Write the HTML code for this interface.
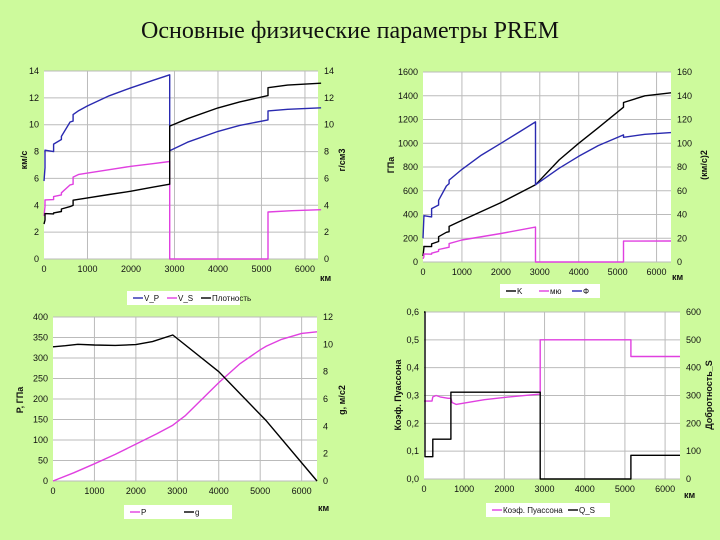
<!DOCTYPE html>
<html><head><meta charset="utf-8">
<style>
body{margin:0;background:#cdfa9c;}
svg{display:block;font-family:"Liberation Sans",sans-serif;}
</style></head><body>
<svg id="s" width="720" height="540" viewBox="0 0 720 540" xmlns="http://www.w3.org/2000/svg">
<rect width="720" height="540" fill="#cdfa9c"/>
<text x="350" y="38" text-anchor="middle" font-family="Liberation Serif,serif" font-size="24" fill="#111">Основные физические параметры PREM</text>
</svg>
<script>
// ---- Chart 1: velocities & density ----
const vpDepth=[0,24,24,220,220,400,400,600,670,670,800,1000,1500,2000,2500,2891,2891,3300,4000,4500,5150,5150,5600,6371];
const vpVal=[5.8,6.8,8.1,8.0,8.56,8.9,9.13,10.2,10.27,10.75,11.05,11.4,12.15,12.75,13.3,13.72,8.06,8.7,9.5,9.95,10.36,11.03,11.15,11.26];
const vsDepth=[0,24,24,220,220,400,400,600,670,670,800,1000,1500,2000,2500,2891,2891,5150,5150,5700,6371];
const vsVal=[3.2,3.9,4.4,4.42,4.65,4.77,4.93,5.52,5.57,6.1,6.3,6.4,6.65,6.9,7.1,7.26,0,0,3.5,3.6,3.67];
const rhoDepth=[0,24,24,220,220,400,400,600,670,670,1000,1500,2000,2500,2891,2891,3300,4000,4500,5150,5150,5600,6371];
const rhoVal=[2.6,2.9,3.38,3.36,3.43,3.54,3.72,3.9,3.99,4.38,4.55,4.8,5.05,5.35,5.57,9.9,10.45,11.25,11.7,12.17,12.76,12.95,13.09];
// ---- Chart 2: moduli ----
const kDepth=[0,24,24,220,220,400,400,600,670,670,1000,2000,2891,3500,4000,4500,5150,5150,5700,6371];
const kVal=[50,120,131,130,152,173,213,250,255,300,350,500,650,860,1000,1130,1304,1343,1400,1425];
const muDepth=[0,24,24,220,220,400,400,600,670,670,1000,2000,2891,2891,5150,5150,6371];
const muVal=[27,44,68,66,74,90,105,120,125,155,185,240,294,0,0,176,177];
const phiDepth=[0,24,24,220,220,400,400,600,670,670,1000,1500,2000,2500,2891,2891,3500,4000,4500,5150,5150,5700,6371];
const phiVal=[20,38,39,38,45,48,52,64,66,69,78,90,100,110,118,65,79,89,98,107,105,107.5,109];
// ---- Chart 3: pressure & gravity ----
const pDepth=[0,500,1000,1500,2000,2500,2891,3200,3500,4000,4500,5000,5150,5500,6000,6371];
const pVal=[0,20,42,65,90,115,136,160,190,240,285,320,329,345,360,364];
const gDepth=[0,300,600,1000,1500,2000,2400,2891,4000,5150,6371];
const gVal=[9.82,9.9,10.0,9.95,9.92,9.98,10.2,10.68,8.0,4.4,0];
// ---- Chart 4: Poisson & Q ----
const nuDepth=[0,200,220,300,400,600,670,700,800,1500,2000,2891,2891,5150,5150,6371];
const nuVal=[0.28,0.28,0.295,0.30,0.295,0.29,0.29,0.275,0.268,0.285,0.293,0.305,0.5,0.5,0.44,0.44];
const qDepth=[0,0,24,24,220,220,670,670,2891,2891,5150,5150,6371];
const qVal=[600,600,600,80,80,143,143,312,312,0,0,85,85];

const svg=document.getElementById('s');
const NS='http://www.w3.org/2000/svg';
function mk(tag,attrs,parent){const e=document.createElementNS(NS,tag);for(const k in attrs)e.setAttribute(k,attrs[k]);(parent||svg).appendChild(e);return e;}
function txt(x,y,s,anchor,size,rot,parent){const t=mk('text',{x:x,y:y,'text-anchor':anchor||'middle','font-size':size||9,fill:'#111'},parent);if(rot)t.setAttribute('transform','rotate(-90 '+x+' '+y+')');t.textContent=s;return t;}

function chart(c){
  const g=mk('g',{});
  
  
  const xS=d=>c.x0+(c.x1-c.x0)*d/c.xMax;
  const yL=v=>c.y1-(c.y1-c.y0)*v/c.lMax;
  const yR=v=>c.y1-(c.y1-c.y0)*v/c.rMax;
  const bg=mk('rect',{x:c.x0,y:c.y0,width:c.x1-c.x0,height:c.y1-c.y0,fill:'#fff'},g);
  
  
  for(let d=1000;d<c.xMax;d+=1000){const l=mk('line',{x1:xS(d),x2:xS(d),y1:c.y0,y2:c.y1,stroke:'#bbb','stroke-width':1},g);}
  for(let i=0;i<=c.lTicks.length-1;i++){const v=c.lStep*i;const y=yL(v);
    const l=mk('line',{x1:c.x0,x2:c.x1,y1:y,y2:y,stroke:'#bbb','stroke-width':1},g);
    const t=txt(c.x0-5,y+3,c.lTicks[i],'end',9,0,g);}
  for(let i=0;i<c.rTicks.length;i++){const y=yR(c.rStep*i);
    const t=txt(c.x1+6,y+3,c.rTicks[i],'start',9,0,g);}
  for(let d=0;d<=6000;d+=1000){const t=txt(xS(d),c.y1+13,String(d),'middle',9,0,g);}
  const ku=txt(c.kmX,c.kmY,'км','start',9,0,g);ku.setAttribute('font-weight','bold');
  const lt=txt(c.ltX,c.ltY,c.lTitle,'middle',9,1,g);lt.setAttribute('font-weight','bold');
  const rt=txt(c.rtX,c.rtY,c.rTitle,'middle',9,1,g);rt.setAttribute('font-weight','bold');
  c.series.forEach(s=>{const ys=s.axis==='r'?yR:yL;
    const pts=s.d.map((d,i)=>xS(d).toFixed(1)+','+ys(s.v[i]).toFixed(1)).join(' ');
    const p=mk('polyline',{points:pts,fill:'none',stroke:s.color,'stroke-width':1.4,'stroke-linejoin':'round'},g);
    });
  const lb=mk('rect',{x:c.lgX,y:c.lgY,width:c.lgW,height:14,fill:'#fff'},g);
  
  c.series.forEach((s,i)=>{const x=c.lgX+6+i*c.lgStep;
    const l=mk('line',{x1:x,x2:x+10,y1:c.lgY+7,y2:c.lgY+7,stroke:s.color,'stroke-width':1.4},g);
    const t=txt(x+11,c.lgY+10,s.label,'start',8,0,g);});
}
const ticks=(n,step,f)=>Array.from({length:n},(_,i)=>f?f(i*step):String(i*step));
chart({name:'velocity-density-chart',x0:44,x1:318,y0:71,y1:259,xMax:6300,lMax:14,rMax:14,lStep:2,rStep:2,
  lTicks:ticks(8,2),rTicks:ticks(8,2),kmX:320,kmY:281,lTitle:'км/с',ltX:27,ltY:160,rTitle:'г/см3',rtX:345,rtY:160,
  lgX:127,lgY:291,lgW:113,lgStep:34,
  series:[{name:'vp-line',label:'V_P',color:'#2a2ab0',d:vpDepth,v:vpVal},{name:'vs-line',label:'V_S',color:'#e040e0',d:vsDepth,v:vsVal},{name:'density-line',label:'Плотность',color:'#000',d:rhoDepth,v:rhoVal}]});
chart({name:'moduli-chart',x0:423,x1:671,y0:72,y1:262,xMax:6371,lMax:1600,rMax:160,lStep:200,rStep:20,
  lTicks:ticks(9,200),rTicks:ticks(9,20),kmX:672,kmY:280,lTitle:'ГПа',ltX:394,ltY:165,rTitle:'(км/с)2',rtX:707,rtY:165,
  lgX:500,lgY:284,lgW:100,lgStep:33,
  series:[{name:'k-line',label:'K',color:'#000',d:kDepth,v:kVal},{name:'mu-line',label:'мю',color:'#e040e0',d:muDepth,v:muVal},{name:'phi-line',label:'Ф',color:'#2a2ab0',axis:'r',d:phiDepth,v:phiVal}]});
chart({name:'pressure-gravity-chart',x0:53,x1:317,y0:317,y1:481,xMax:6371,lMax:400,rMax:12,lStep:50,rStep:2,
  lTicks:ticks(9,50),rTicks:ticks(7,2),kmX:318,kmY:511,lTitle:'P, ГПа',ltX:23,ltY:400,rTitle:'g, м/с2',rtX:345,rtY:400,
  lgX:124,lgY:505,lgW:108,lgStep:54,
  series:[{name:'pressure-line',label:'P',color:'#e040e0',d:pDepth,v:pVal},{name:'gravity-line',label:'g',color:'#000',axis:'r',d:gDepth,v:gVal}]});
chart({name:'poisson-q-chart',x0:424,x1:680,y0:312,y1:479,xMax:6371,lMax:0.6,rMax:600,lStep:0.1,rStep:100,
  lTicks:ticks(7,0.1,v=>v.toFixed(1).replace('.',',')),rTicks:ticks(7,100),kmX:684,kmY:498,lTitle:'Коэф. Пуассона',ltX:401,ltY:395,rTitle:'Добротность_S',rtX:712,rtY:395,
  lgX:486,lgY:503,lgW:124,lgStep:76,
  series:[{name:'poisson-line',label:'Коэф. Пуассона',color:'#e040e0',d:nuDepth,v:nuVal},{name:'q-s-line',label:'Q_S',color:'#000',axis:'r',d:qDepth,v:qVal}]});
</script>
</body></html>
